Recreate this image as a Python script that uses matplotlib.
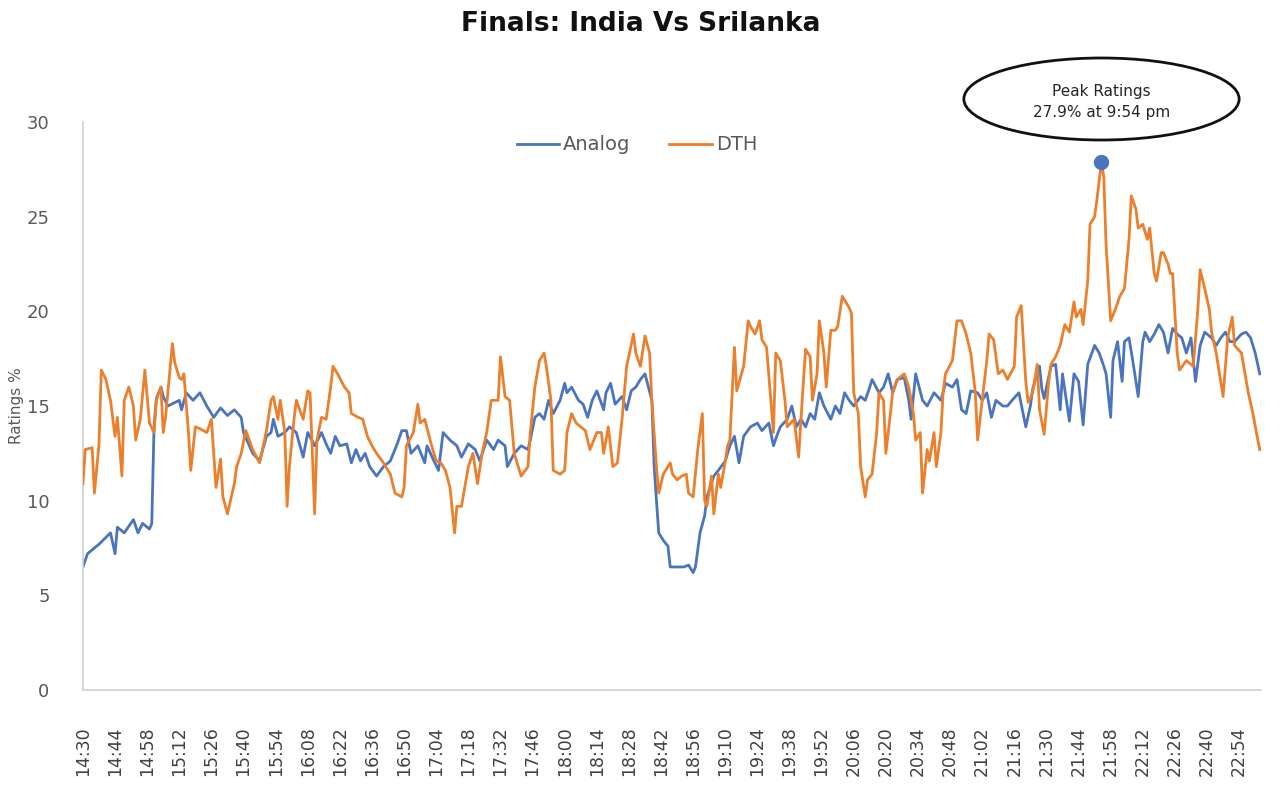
import matplotlib
matplotlib.use("Agg")
import matplotlib.pyplot as plt
import matplotlib.transforms as mtransforms
from matplotlib.patches import Ellipse

# minutes after 14:30 and rating %
analog_min = [0, 2, 7, 12, 14, 15, 18, 22, 24, 26, 29, 30, 31, 32, 34, 35, 37, 42, 43, 45,
              48, 51, 54, 57, 60, 63, 66, 69, 70, 74, 77, 80, 82, 83, 85, 88, 90, 93, 96, 98,
              101, 104, 106, 108, 110, 112, 115, 117, 119, 121, 123, 125, 128, 131, 134, 137, 139, 141, 143, 146,
              149, 150, 153, 155, 157, 160, 163, 165, 168, 171, 173, 176, 179, 181, 184, 185, 188, 191, 194, 195,
              197, 199, 201, 203, 205, 208, 210, 211, 213, 216, 218, 220, 222, 224, 227, 228, 230, 232, 235, 237,
              239, 241, 243, 245, 248, 249, 250, 251, 253, 255, 256, 259, 262, 264, 266, 267, 269, 271, 272, 275,
              277, 280, 282, 284, 286, 288, 291, 294, 296, 299, 301, 303, 304, 307, 309, 311, 313, 315, 317, 319,
              321, 323, 326, 328, 330, 332, 334, 336, 339, 341, 343, 344, 347, 349, 351, 353, 355, 358, 360, 361,
              363, 366, 368, 371, 374, 376, 379, 381, 383, 385, 387, 390, 392, 394, 396, 398, 401, 403, 405, 408,
              411, 413, 414, 417, 418, 419, 422, 424, 426, 427, 430, 432, 434, 436, 438, 441, 443, 445, 446, 448,
              449, 451, 453, 454, 456, 458, 460, 462, 463, 465, 467, 469, 471, 473, 475, 477, 479, 481, 483, 485,
              487, 489, 492, 494, 496, 498, 500, 502, 505, 507, 509, 511, 513]
analog_val = [6.5, 7.2, 7.7, 8.3, 7.2, 8.6, 8.3, 9.0, 8.3, 8.8, 8.5, 8.8, 13.9, 15.4, 16.0, 15.5, 15.0, 15.3, 14.8, 15.7,
              15.3, 15.7, 15.0, 14.4, 14.9, 14.5, 14.8, 14.4, 13.6, 12.5, 12.1, 13.4, 13.6, 14.3, 13.4, 13.6, 13.9, 13.6, 12.3, 13.6,
              12.9, 13.6, 13.0, 12.5, 13.4, 12.9, 13.0, 12.0, 12.7, 12.1, 12.5, 11.8, 11.3, 11.8, 12.1, 13.0, 13.7, 13.7, 12.5, 12.9,
              12.0, 12.9, 12.1, 11.6, 13.6, 13.2, 12.9, 12.3, 13.0, 12.7, 12.1, 13.2, 12.7, 13.2, 12.9, 11.8, 12.5, 12.9, 12.7, 13.2,
              14.4, 14.6, 14.3, 15.3, 14.6, 15.3, 16.2, 15.7, 16.0, 15.3, 15.1, 14.4, 15.3, 15.8, 14.8, 15.7, 16.2, 15.1, 15.5, 14.8,
              15.8, 16.0, 16.4, 16.7, 15.3, 11.8, 10.0, 8.3, 7.9, 7.6, 6.5, 6.5, 6.5, 6.6, 6.2, 6.5, 8.3, 9.2, 10.2, 11.3,
              11.6, 12.1, 12.9, 13.4, 12.0, 13.4, 13.9, 14.1, 13.7, 14.1, 12.9, 13.6, 13.9, 14.3, 15.0, 13.9, 14.3, 13.9, 14.6, 14.3,
              15.7, 15.0, 14.3, 15.0, 14.6, 15.7, 15.3, 15.0, 15.5, 15.3, 16.0, 16.4, 15.7, 16.0, 16.7, 15.7, 16.4, 16.5, 15.3, 14.3,
              16.7, 15.3, 15.0, 15.7, 15.3, 16.2, 16.0, 16.4, 14.8, 14.6, 15.8, 15.7, 15.3, 15.7, 14.4, 15.3, 15.0, 15.0, 15.3, 15.7,
              13.9, 15.0, 15.9, 17.1, 15.9, 15.4, 17.1, 17.2, 14.8, 16.7, 14.2, 16.7, 16.3, 14.0, 17.2, 18.2, 17.8, 17.1, 16.7, 14.4,
              17.4, 18.4, 16.3, 18.4, 18.6, 17.1, 15.5, 18.4, 18.9, 18.4, 18.8, 19.3, 18.9, 17.8, 19.1, 18.8, 18.6, 17.8, 18.6, 16.3,
              18.2, 18.9, 18.6, 18.2, 18.6, 18.9, 18.4, 18.4, 18.8, 18.9, 18.6, 17.8, 16.7]

dth_min = [0, 1, 4, 5, 7, 8, 10, 12, 14, 15, 17, 18, 20, 22, 23, 25, 27, 29, 31, 32,
           34, 35, 36, 39, 40, 42, 43, 44, 46, 47, 49, 51, 54, 56, 58, 60, 61, 63, 66, 67,
           69, 71, 74, 77, 80, 82, 83, 85, 86, 88, 89, 90, 92, 93, 96, 98, 99, 101, 102, 104,
           106, 108, 109, 111, 114, 116, 117, 120, 122, 124, 126, 128, 131, 134, 136, 139, 140, 141, 144, 146,
           147, 149, 152, 154, 156, 158, 160, 162, 163, 165, 168, 170, 172, 174, 176, 178, 181, 182, 184, 186,
           188, 191, 194, 195, 197, 199, 201, 202, 204, 205, 208, 210, 211, 213, 215, 217, 219, 221, 224, 226,
           227, 229, 231, 233, 235, 237, 240, 241, 243, 245, 247, 248, 250, 251, 253, 256, 257, 259, 261, 263,
           264, 266, 268, 270, 271, 272, 274, 275, 277, 278, 280, 281, 282, 284, 285, 288, 290, 291, 293, 295,
           296, 298, 301, 302, 304, 306, 307, 310, 312, 313, 315, 317, 318, 320, 321, 323, 324, 326, 328, 329,
           331, 334, 335, 336, 338, 339, 341, 342, 344, 346, 347, 349, 350, 352, 353, 355, 358, 360, 362, 363,
           365, 366, 368, 369, 371, 372, 374, 375, 376, 379, 381, 383, 385, 387, 389, 390, 392, 394, 395, 397,
           399, 401, 403, 406, 407, 409, 411, 412, 414, 416, 417, 419, 421, 422, 424, 426, 428, 430, 432, 433,
           435, 436, 438, 439, 441, 442, 444, 445, 446, 448, 450, 452, 454, 456, 457, 459, 460, 462, 464, 465,
           467, 468, 470, 471, 473, 474, 475, 477, 478, 481, 483, 484, 486, 487, 489, 491, 492, 494, 497, 499,
           501, 502, 505, 506, 508, 510, 512, 513]
dth_val = [10.9, 12.7, 12.8, 10.4, 13.0, 16.9, 16.4, 15.3, 13.4, 14.4, 11.3, 15.3, 16.0, 15.0, 13.2, 14.3, 16.9, 14.1, 13.6, 15.3,
           16.0, 13.6, 14.4, 18.3, 17.3, 16.5, 16.4, 16.7, 13.6, 11.6, 13.9, 13.8, 13.6, 14.3, 10.7, 12.2, 10.2, 9.3, 10.9, 11.8,
           12.5, 13.7, 12.7, 12.0, 13.7, 15.3, 15.5, 14.3, 15.3, 13.6, 9.7, 11.8, 14.3, 15.3, 14.3, 15.8, 15.7, 9.3, 13.2, 14.4,
           14.3, 16.0, 17.1, 16.7, 16.0, 15.7, 14.6, 14.4, 14.3, 13.4, 12.9, 12.5, 12.0, 11.4, 10.4, 10.2, 10.7, 12.9, 13.6, 15.1,
           14.1, 14.3, 12.9, 12.1, 12.0, 11.6, 10.7, 8.3, 9.7, 9.7, 11.8, 12.5, 10.9, 12.5, 13.6, 15.3, 15.3, 17.6, 15.5, 15.3,
           12.5, 11.3, 11.8, 13.6, 16.0, 17.4, 17.8, 17.1, 15.3, 11.6, 11.4, 11.6, 13.6, 14.6, 14.1, 13.9, 13.7, 12.7, 13.6, 13.6,
           12.5, 13.9, 11.8, 12.0, 14.3, 17.1, 18.8, 17.8, 17.1, 18.7, 17.8, 15.3, 11.8, 10.4, 11.4, 12.0, 11.4, 11.1, 11.3, 11.4,
           10.4, 10.2, 12.7, 14.6, 10.0, 9.7, 11.3, 9.3, 11.4, 10.7, 12.1, 12.9, 13.2, 18.1, 15.8, 17.1, 19.5, 19.2, 18.8, 19.5,
           18.5, 18.1, 13.6, 17.8, 17.4, 15.3, 13.9, 14.3, 12.3, 14.3, 18.0, 17.6, 15.3, 16.7, 19.5, 17.8, 16.0, 19.0, 19.0, 19.2,
           20.8, 20.2, 19.9, 15.7, 14.6, 11.8, 10.2, 11.1, 11.4, 13.6, 15.7, 15.3, 12.5, 14.6, 15.8, 16.4, 16.7, 16.0, 14.6, 13.2,
           13.6, 10.4, 12.7, 12.1, 13.6, 11.8, 13.6, 15.8, 16.7, 17.4, 19.5, 19.5, 18.8, 17.8, 15.7, 13.2, 15.3, 17.4, 18.8, 18.5,
           16.7, 16.9, 16.4, 17.1, 19.7, 20.3, 16.3, 15.2, 15.7, 17.2, 14.8, 13.5, 16.3, 17.2, 17.6, 18.2, 19.3, 18.9, 20.5, 19.7,
           20.1, 19.3, 21.6, 24.6, 25.0, 25.9, 27.9, 27.1, 23.5, 19.5, 20.1, 20.8, 21.2, 23.8, 26.1, 25.4, 24.4, 24.6, 23.8, 24.4,
           22.0, 21.6, 23.1, 23.1, 22.5, 22.0, 22.0, 17.8, 16.9, 17.4, 17.2, 17.1, 20.1, 22.2, 21.2, 20.1, 18.9, 17.8, 15.5, 18.6,
           19.7, 18.2, 17.8, 17.1, 15.7, 14.6, 13.3, 12.7]

tick_min = list(range(0, 505, 14))
tick_labels = ['14:30', '14:44', '14:58', '15:12', '15:26', '15:40', '15:54', '16:08', '16:22', '16:36',
               '16:50', '17:04', '17:18', '17:32', '17:46', '18:00', '18:14', '18:28', '18:42', '18:56',
               '19:10', '19:24', '19:38', '19:52', '20:06', '20:20', '20:34', '20:48', '21:02', '21:16',
               '21:30', '21:44', '21:58', '22:12', '22:26', '22:40', '22:54']

peak_min = 444
peak_val = 27.9
peak_text = 'Peak Ratings\n27.9% at 9:54 pm'

blue = '#4A74BE'
orange = '#EB7F2C'

fig = plt.figure(figsize=(12.8, 7.99), dpi=100)
ax = fig.add_axes([0.0648, 0.1364, 0.9203, 0.7109])

ax.plot(analog_min, analog_val, color=blue, lw=2.0, label='Analog', zorder=2)
ax.plot(dth_min, dth_val, color=orange, lw=2.0, label='DTH', zorder=3)
ax.plot([peak_min], [peak_val], 'o', color=blue, ms=10, zorder=4)

ax.set_xlim(0, 513.5)
ax.set_ylim(0, 30)
ax.set_yticks(range(0, 31, 5))
ax.set_xticks(tick_min)
ax.set_xticklabels(tick_labels, rotation=90)
ax.tick_params(axis='x', length=0, pad=26, labelsize=12.5, labelcolor='#404040')
ax.tick_params(axis='y', length=0, pad=24, labelsize=13, labelcolor='#595959')
for s in ['top', 'right']:
    ax.spines[s].set_visible(False)
for s in ['left', 'bottom']:
    ax.spines[s].set_color('#D0D0D0')
    ax.spines[s].set_linewidth(1.2)

ax.set_ylabel('Ratings %', fontsize=11, color='#595959')
ax.yaxis.set_label_coords(-0.05, 0.5)

fig.text(0.5008, 0.97, 'Finals: India Vs Srilanka', ha='center', va='center',
         fontsize=19, fontweight='bold', color='#111111')

ax.legend(loc='center', bbox_to_anchor=(637 / 1280, 1 - 145 / 799), bbox_transform=fig.transFigure,
          ncol=2, frameon=False, fontsize=14, handlelength=2.2, handletextpad=0.2,
          columnspacing=2.0, labelcolor='#595959')

# callout ellipse above the peak
trans = mtransforms.blended_transform_factory(ax.transData, fig.transFigure)
ell = Ellipse((peak_min, 1 - 99 / 799), width=120, height=82 / 799, transform=trans,
              facecolor='white', edgecolor='#111111', lw=2.0, clip_on=False)
fig.add_artist(ell)
fig.text(peak_min, 1 - 102 / 799, peak_text, transform=trans, ha='center', va='center',
         fontsize=11, color='#262626', linespacing=1.45)

fig.savefig('out.png', dpi=100)
